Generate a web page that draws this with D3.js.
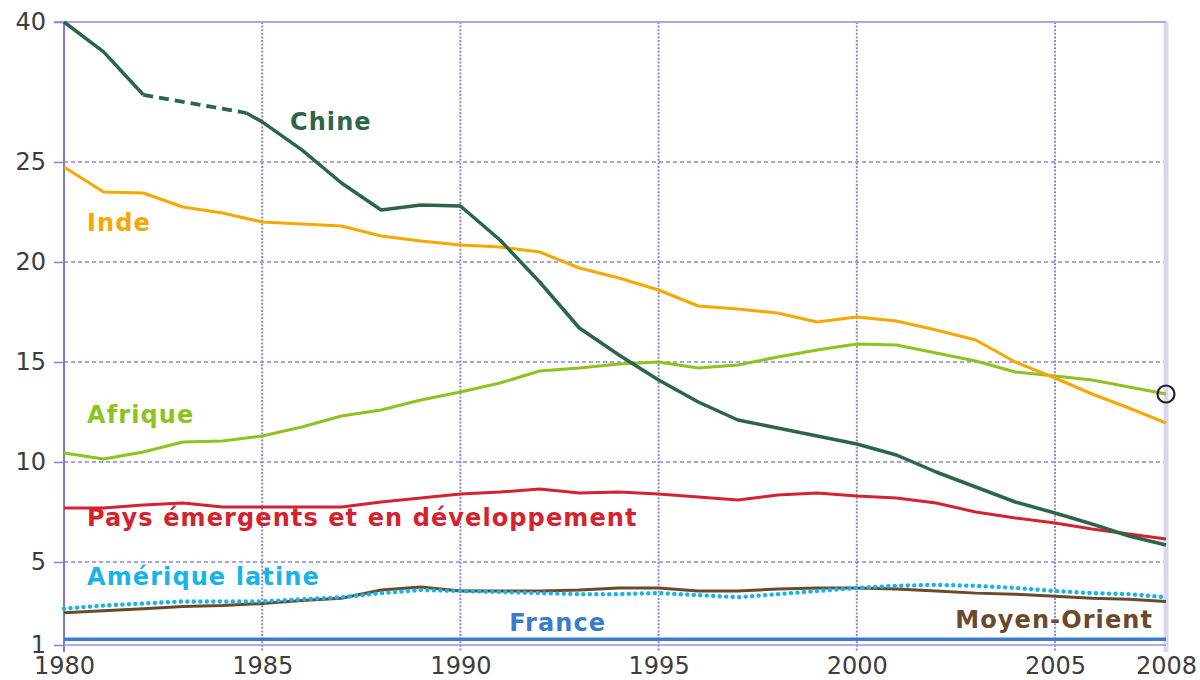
<!doctype html>
<html>
<head>
<meta charset="utf-8">
<script src="https://d3js.org/d3.v7.min.js"></script>
<style>
body { margin:0; background:#fff; }
.axis text { font-family:'DejaVu Sans', sans-serif; font-size:24px; fill:#3d3d3d; }
.lbl { font-family:'DejaVu Sans', sans-serif; font-weight:bold; font-size:24px; letter-spacing:1.1px; }
</style>
</head>
<body>
<script>
// data
var years = d3.range(1980, 2009);
var xTicks = [1980, 1985, 1990, 1995, 2000, 2005, 2008];
var yTicks = [1, 5, 10, 15, 20, 25, 40];

var chineYears = [1980, 1981, 1982, 1984.6, 1985, 1986, 1987, 1988, 1989, 1990, 1991, 1992, 1993, 1994, 1995, 1996, 1997, 1998, 1999, 2000, 2001, 2002, 2003, 2004, 2005, 2006, 2007, 2008];
var chine = [40, 36.8, 32.2, 30.25, 29.3, 26.3, 23.95, 22.6, 22.85, 22.8, 21.1, 19, 16.7, 15.35, 14.1, 13, 12.1, 11.7, 11.3, 10.9, 10.35, 9.5, 8.75, 8.0, 7.45, 6.9, 6.3, 5.85];
var chineDashed = [1982, 1984.6];

var inde = [24.75, 23.5, 23.45, 22.75, 22.45, 22.0, 21.9, 21.8, 21.3, 21.05, 20.85, 20.75, 20.5, 19.7, 19.2, 18.6, 17.8, 17.65, 17.45, 17.0, 17.25, 17.05, 16.6, 16.1, 15.0, 14.2, 13.4, 12.7, 11.95];
var afrique = [10.45, 10.15, 10.5, 11.0, 11.05, 11.3, 11.75, 12.3, 12.6, 13.1, 13.5, 13.95, 14.55, 14.7, 14.9, 15.0, 14.7, 14.85, 15.25, 15.6, 15.9, 15.85, 15.45, 15.05, 14.5, 14.3, 14.1, 13.75, 13.4];
var emergents = [7.7, 7.7, 7.85, 7.95, 7.75, 7.75, 7.75, 7.75, 8.0, 8.2, 8.4, 8.5, 8.65, 8.45, 8.5, 8.4, 8.25, 8.1, 8.35, 8.45, 8.3, 8.2, 7.95, 7.5, 7.2, 6.95, 6.65, 6.4, 6.15];
var ameriqueLatine = [2.75, 2.9, 3.0, 3.1, 3.1, 3.1, 3.2, 3.3, 3.5, 3.65, 3.6, 3.55, 3.5, 3.45, 3.45, 3.5, 3.4, 3.3, 3.45, 3.6, 3.75, 3.85, 3.9, 3.85, 3.75, 3.6, 3.5, 3.45, 3.3];
var moyenOrient = [2.55, 2.65, 2.75, 2.85, 2.9, 3.0, 3.15, 3.25, 3.65, 3.8, 3.6, 3.6, 3.6, 3.65, 3.75, 3.75, 3.6, 3.6, 3.7, 3.75, 3.75, 3.7, 3.6, 3.5, 3.45, 3.35, 3.25, 3.2, 3.1];
var france = [1.28, 1.28, 1.28, 1.28, 1.28, 1.28, 1.28, 1.28, 1.28, 1.28, 1.28, 1.28, 1.28, 1.28, 1.28, 1.28, 1.28, 1.28, 1.28, 1.28, 1.28, 1.28, 1.28, 1.28, 1.28, 1.28, 1.28, 1.28, 1.28];

var width = 1200, height = 680;
var svg = d3.select('body').append('svg').attr('width', width).attr('height', height);

// broken scales, as in the original figure
var x = d3.scaleLinear().domain([1980, 2005, 2008]).range([64, 1055, 1166]);
var y = d3.scaleLinear().domain([1, 5, 25, 40]).range([645, 562, 162, 22]);

var gridColor = '#8c86d4';

/////////////// GRID ///////////////
svg.append('g').selectAll('line')
	.data(yTicks.filter(function(d){return d > 1 && d < 40;}))
	.enter().append('line')
		.attr('x1', x(1980)).attr('x2', x(2008))
		.attr('y1', function(d){return y(d);}).attr('y2', function(d){return y(d);})
		.style('stroke', gridColor).style('stroke-width', 1.6).style('stroke-dasharray', '4,3');

svg.append('g').selectAll('line')
	.data(xTicks.filter(function(d){return d > 1980 && d < 2008;}))
	.enter().append('line')
		.attr('x1', function(d){return x(d);}).attr('x2', function(d){return x(d);})
		.attr('y1', y(40)).attr('y2', y(1) + 7)
		.style('stroke', gridColor).style('stroke-width', 2).style('stroke-dasharray', '2,1.6');

// frame
svg.append('line').attr('x1', x(2008)).attr('x2', x(2008)).attr('y1', y(40)).attr('y2', y(1) + 7)
	.style('stroke', '#d9d7ef').style('stroke-width', 5);
svg.append('line').attr('x1', x(1980) - 10).attr('x2', x(2008)).attr('y1', y(40)).attr('y2', y(40))
	.style('stroke', '#aaa5e0').style('stroke-width', 2);
svg.append('line').attr('x1', x(1980)).attr('x2', x(1980)).attr('y1', y(40)).attr('y2', y(1) + 7)
	.style('stroke', '#7f78cf').style('stroke-width', 2);
svg.append('line').attr('x1', x(1980)).attr('x2', x(2008)).attr('y1', y(1)).attr('y2', y(1))
	.style('stroke', '#9a94da').style('stroke-width', 1.5);

/////////////// AXES ///////////////
var yAxis = d3.axisLeft(y).tickValues(yTicks).tickSize(10).tickPadding(8);
var gy = svg.append('g').attr('class', 'axis').attr('transform', 'translate(' + x(1980) + ',0)').call(yAxis);
gy.select('.domain').remove();
gy.selectAll('.tick line').style('stroke', gridColor).style('stroke-width', 1.6);

var xAxis = d3.axisBottom(x).tickValues(xTicks).tickFormat(d3.format('d')).tickSize(7).tickPadding(5);
var gx = svg.append('g').attr('class', 'axis').attr('transform', 'translate(0,' + y(1) + ')').call(xAxis);
gx.select('.domain').remove();
gx.selectAll('.tick line').remove();

/////////////// LINES ///////////////
var line = d3.line().x(function(d){return x(d[0]);}).y(function(d){return y(d[1]);});
function pairs(xs, vs) { return xs.map(function(d, i){return [d, vs[i]];}); }

function drawLine(pts, color, w, dash) {
	var p = svg.append('path').attr('d', line(pts))
		.style('fill', 'none').style('stroke', color).style('stroke-width', w)
		.style('stroke-linejoin', 'round');
	if (dash) p.style('stroke-dasharray', dash);
	return p;
}

drawLine(pairs(years, france), '#3a7ccb', 3.5);
drawLine(pairs(years, moyenOrient), '#6b4a2c', 3);
drawLine(pairs(years, ameriqueLatine), '#19b3ec', 4.4, '0.1,6.4').style('stroke-linecap', 'round');
drawLine(pairs(years, emergents), '#d4222e', 3);
drawLine(pairs(years, afrique), '#8cc31f', 3);
drawLine(pairs(years, inde), '#f4a800', 3);

var chinePts = pairs(chineYears, chine);
drawLine(chinePts.filter(function(d){return d[0] <= chineDashed[0];}), '#2d654a', 3.5);
drawLine(chinePts.filter(function(d){return d[0] >= chineDashed[0] && d[0] <= chineDashed[1];}), '#2d654a', 3.8, '10,6');
drawLine(chinePts.filter(function(d){return d[0] >= chineDashed[1];}), '#2d654a', 3.5);

// circled last value of Afrique
svg.append('circle').attr('cx', x(2008)).attr('cy', y(afrique[afrique.length - 1])).attr('r', 8.5)
	.style('fill', 'none').style('stroke', '#222').style('stroke-width', 2.2);

/////////////// LABELS ///////////////
var labels = [
	{text:'Chine', year:1985.7, value:28.43, color:'#2d654a', anchor:'start'},
	{text:'Inde', year:1980.58, value:21.55, color:'#f4a800', anchor:'start'},
	{text:'Afrique', year:1980.58, value:11.95, color:'#8cc31f', anchor:'start'},
	{text:'Pays émergents et en développement', year:1980.58, value:6.8, color:'#d4222e', anchor:'start'},
	{text:'Amérique latine', year:1980.58, value:3.89, color:'#19b3ec', anchor:'start'},
	{text:'France', year:1991.23, value:1.67, color:'#3a7ccb', anchor:'start'},
	{text:'Moyen-Orient', year:2007.65, value:1.82, color:'#6b4a2c', anchor:'end'}
];
svg.append('g').selectAll('text').data(labels).enter().append('text')
	.attr('class', 'lbl')
	.attr('x', function(d){return x(d.year);})
	.attr('y', function(d){return y(d.value);})
	.attr('text-anchor', function(d){return d.anchor;})
	.style('fill', function(d){return d.color;})
	.text(function(d){return d.text;});
</script>
</body>
</html>
